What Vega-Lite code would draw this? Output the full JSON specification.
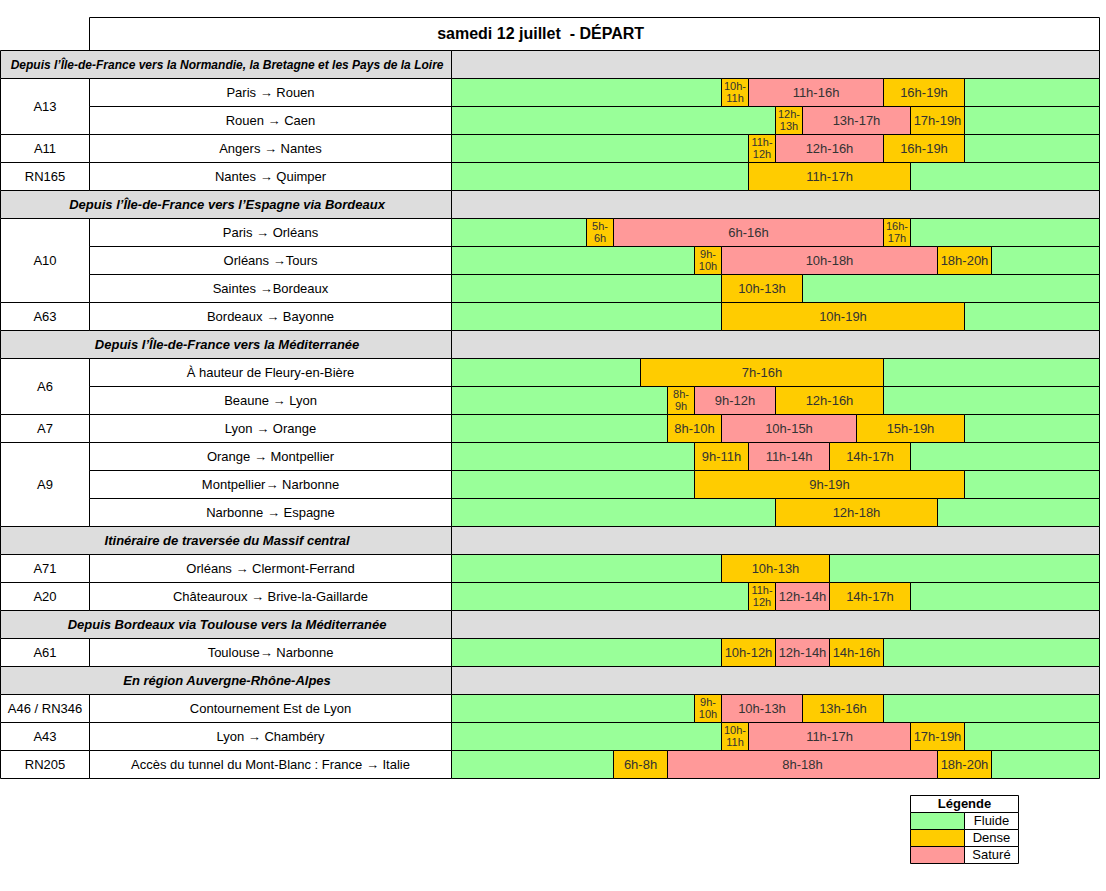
{
  "$schema": "https://vega.github.io/schema/vega-lite/v6.json",
  "width": 1106,
  "height": 891,
  "autosize": "none",
  "padding": 0,
  "background": "white",
  "config": {
    "view": {"stroke": null},
    "axis": {"disable": true},
    "font": "Liberation Sans",
    "text": {"font": "Liberation Sans", "fontSize": 13, "baseline": "middle", "align": "center", "color": "black"}
  },
  "datasets": {
    "titre": [{"titre": "samedi 12 juillet\u00a0 - DÉPART", "r0": -1, "r1": 0}],
    "sections": [
      {"section": "Depuis l’Île-de-France vers la Normandie, la Bretagne et les Pays de la Loire", "r0": 0, "r1": 1},
      {"section": "Depuis l’Île-de-France vers l’Espagne via Bordeaux", "r0": 5, "r1": 6},
      {"section": "Depuis l’Île-de-France vers la Méditerranée", "r0": 10, "r1": 11},
      {"section": "Itinéraire de traversée du Massif central", "r0": 17, "r1": 18},
      {"section": "Depuis Bordeaux via Toulouse vers la Méditerranée", "r0": 20, "r1": 21},
      {"section": "En région Auvergne-Rhône-Alpes", "r0": 22, "r1": 23}
    ],
    "roads": [
      {"road": "A13", "r0": 1, "r1": 3},
      {"road": "A11", "r0": 3, "r1": 4},
      {"road": "RN165", "r0": 4, "r1": 5},
      {"road": "A10", "r0": 6, "r1": 9},
      {"road": "A63", "r0": 9, "r1": 10},
      {"road": "A6", "r0": 11, "r1": 13},
      {"road": "A7", "r0": 13, "r1": 14},
      {"road": "A9", "r0": 14, "r1": 17},
      {"road": "A71", "r0": 18, "r1": 19},
      {"road": "A20", "r0": 19, "r1": 20},
      {"road": "A61", "r0": 21, "r1": 22},
      {"road": "A46 / RN346", "r0": 23, "r1": 24},
      {"road": "A43", "r0": 24, "r1": 25},
      {"road": "RN205", "r0": 25, "r1": 26}
    ],
    "routes": [
      {"route": "Paris → Rouen", "r0": 1, "r1": 2},
      {"route": "Rouen → Caen", "r0": 2, "r1": 3},
      {"route": "Angers → Nantes", "r0": 3, "r1": 4},
      {"route": "Nantes → Quimper", "r0": 4, "r1": 5},
      {"route": "Paris → Orléans", "r0": 6, "r1": 7},
      {"route": "Orléans →Tours", "r0": 7, "r1": 8},
      {"route": "Saintes →Bordeaux", "r0": 8, "r1": 9},
      {"route": "Bordeaux → Bayonne", "r0": 9, "r1": 10},
      {"route": "À hauteur de Fleury-en-Bière", "r0": 11, "r1": 12},
      {"route": "Beaune → Lyon", "r0": 12, "r1": 13},
      {"route": "Lyon → Orange", "r0": 13, "r1": 14},
      {"route": "Orange → Montpellier", "r0": 14, "r1": 15},
      {"route": "Montpellier→ Narbonne", "r0": 15, "r1": 16},
      {"route": "Narbonne → Espagne", "r0": 16, "r1": 17},
      {"route": "Orléans → Clermont-Ferrand", "r0": 18, "r1": 19},
      {"route": "Châteauroux → Brive-la-Gaillarde", "r0": 19, "r1": 20},
      {"route": "Toulouse→ Narbonne", "r0": 21, "r1": 22},
      {"route": "Contournement Est de Lyon", "r0": 23, "r1": 24},
      {"route": "Lyon → Chambéry", "r0": 24, "r1": 25},
      {"route": "Accès du tunnel du Mont-Blanc : France → Italie", "r0": 25, "r1": 26}
    ],
    "segments": [
      {"r0": 1, "r1": 2, "start": 0, "end": 10, "niveau": "Fluide", "label": ""},
      {"r0": 1, "r1": 2, "start": 10, "end": 11, "niveau": "Dense", "label": "10h-\n11h"},
      {"r0": 1, "r1": 2, "start": 11, "end": 16, "niveau": "Saturé", "label": "11h-16h"},
      {"r0": 1, "r1": 2, "start": 16, "end": 19, "niveau": "Dense", "label": "16h-19h"},
      {"r0": 1, "r1": 2, "start": 19, "end": 24, "niveau": "Fluide", "label": ""},
      {"r0": 2, "r1": 3, "start": 0, "end": 12, "niveau": "Fluide", "label": ""},
      {"r0": 2, "r1": 3, "start": 12, "end": 13, "niveau": "Dense", "label": "12h-\n13h"},
      {"r0": 2, "r1": 3, "start": 13, "end": 17, "niveau": "Saturé", "label": "13h-17h"},
      {"r0": 2, "r1": 3, "start": 17, "end": 19, "niveau": "Dense", "label": "17h-19h"},
      {"r0": 2, "r1": 3, "start": 19, "end": 24, "niveau": "Fluide", "label": ""},
      {"r0": 3, "r1": 4, "start": 0, "end": 11, "niveau": "Fluide", "label": ""},
      {"r0": 3, "r1": 4, "start": 11, "end": 12, "niveau": "Dense", "label": "11h-\n12h"},
      {"r0": 3, "r1": 4, "start": 12, "end": 16, "niveau": "Saturé", "label": "12h-16h"},
      {"r0": 3, "r1": 4, "start": 16, "end": 19, "niveau": "Dense", "label": "16h-19h"},
      {"r0": 3, "r1": 4, "start": 19, "end": 24, "niveau": "Fluide", "label": ""},
      {"r0": 4, "r1": 5, "start": 0, "end": 11, "niveau": "Fluide", "label": ""},
      {"r0": 4, "r1": 5, "start": 11, "end": 17, "niveau": "Dense", "label": "11h-17h"},
      {"r0": 4, "r1": 5, "start": 17, "end": 24, "niveau": "Fluide", "label": ""},
      {"r0": 6, "r1": 7, "start": 0, "end": 5, "niveau": "Fluide", "label": ""},
      {"r0": 6, "r1": 7, "start": 5, "end": 6, "niveau": "Dense", "label": "5h-\n6h"},
      {"r0": 6, "r1": 7, "start": 6, "end": 16, "niveau": "Saturé", "label": "6h-16h"},
      {"r0": 6, "r1": 7, "start": 16, "end": 17, "niveau": "Dense", "label": "16h-\n17h"},
      {"r0": 6, "r1": 7, "start": 17, "end": 24, "niveau": "Fluide", "label": ""},
      {"r0": 7, "r1": 8, "start": 0, "end": 9, "niveau": "Fluide", "label": ""},
      {"r0": 7, "r1": 8, "start": 9, "end": 10, "niveau": "Dense", "label": "9h-\n10h"},
      {"r0": 7, "r1": 8, "start": 10, "end": 18, "niveau": "Saturé", "label": "10h-18h"},
      {"r0": 7, "r1": 8, "start": 18, "end": 20, "niveau": "Dense", "label": "18h-20h"},
      {"r0": 7, "r1": 8, "start": 20, "end": 24, "niveau": "Fluide", "label": ""},
      {"r0": 8, "r1": 9, "start": 0, "end": 10, "niveau": "Fluide", "label": ""},
      {"r0": 8, "r1": 9, "start": 10, "end": 13, "niveau": "Dense", "label": "10h-13h"},
      {"r0": 8, "r1": 9, "start": 13, "end": 24, "niveau": "Fluide", "label": ""},
      {"r0": 9, "r1": 10, "start": 0, "end": 10, "niveau": "Fluide", "label": ""},
      {"r0": 9, "r1": 10, "start": 10, "end": 19, "niveau": "Dense", "label": "10h-19h"},
      {"r0": 9, "r1": 10, "start": 19, "end": 24, "niveau": "Fluide", "label": ""},
      {"r0": 11, "r1": 12, "start": 0, "end": 7, "niveau": "Fluide", "label": ""},
      {"r0": 11, "r1": 12, "start": 7, "end": 16, "niveau": "Dense", "label": "7h-16h"},
      {"r0": 11, "r1": 12, "start": 16, "end": 24, "niveau": "Fluide", "label": ""},
      {"r0": 12, "r1": 13, "start": 0, "end": 8, "niveau": "Fluide", "label": ""},
      {"r0": 12, "r1": 13, "start": 8, "end": 9, "niveau": "Dense", "label": "8h-\n9h"},
      {"r0": 12, "r1": 13, "start": 9, "end": 12, "niveau": "Saturé", "label": "9h-12h"},
      {"r0": 12, "r1": 13, "start": 12, "end": 16, "niveau": "Dense", "label": "12h-16h"},
      {"r0": 12, "r1": 13, "start": 16, "end": 24, "niveau": "Fluide", "label": ""},
      {"r0": 13, "r1": 14, "start": 0, "end": 8, "niveau": "Fluide", "label": ""},
      {"r0": 13, "r1": 14, "start": 8, "end": 10, "niveau": "Dense", "label": "8h-10h"},
      {"r0": 13, "r1": 14, "start": 10, "end": 15, "niveau": "Saturé", "label": "10h-15h"},
      {"r0": 13, "r1": 14, "start": 15, "end": 19, "niveau": "Dense", "label": "15h-19h"},
      {"r0": 13, "r1": 14, "start": 19, "end": 24, "niveau": "Fluide", "label": ""},
      {"r0": 14, "r1": 15, "start": 0, "end": 9, "niveau": "Fluide", "label": ""},
      {"r0": 14, "r1": 15, "start": 9, "end": 11, "niveau": "Dense", "label": "9h-11h"},
      {"r0": 14, "r1": 15, "start": 11, "end": 14, "niveau": "Saturé", "label": "11h-14h"},
      {"r0": 14, "r1": 15, "start": 14, "end": 17, "niveau": "Dense", "label": "14h-17h"},
      {"r0": 14, "r1": 15, "start": 17, "end": 24, "niveau": "Fluide", "label": ""},
      {"r0": 15, "r1": 16, "start": 0, "end": 9, "niveau": "Fluide", "label": ""},
      {"r0": 15, "r1": 16, "start": 9, "end": 19, "niveau": "Dense", "label": "9h-19h"},
      {"r0": 15, "r1": 16, "start": 19, "end": 24, "niveau": "Fluide", "label": ""},
      {"r0": 16, "r1": 17, "start": 0, "end": 12, "niveau": "Fluide", "label": ""},
      {"r0": 16, "r1": 17, "start": 12, "end": 18, "niveau": "Dense", "label": "12h-18h"},
      {"r0": 16, "r1": 17, "start": 18, "end": 24, "niveau": "Fluide", "label": ""},
      {"r0": 18, "r1": 19, "start": 0, "end": 10, "niveau": "Fluide", "label": ""},
      {"r0": 18, "r1": 19, "start": 10, "end": 14, "niveau": "Dense", "label": "10h-13h"},
      {"r0": 18, "r1": 19, "start": 14, "end": 24, "niveau": "Fluide", "label": ""},
      {"r0": 19, "r1": 20, "start": 0, "end": 11, "niveau": "Fluide", "label": ""},
      {"r0": 19, "r1": 20, "start": 11, "end": 12, "niveau": "Dense", "label": "11h-\n12h"},
      {"r0": 19, "r1": 20, "start": 12, "end": 14, "niveau": "Saturé", "label": "12h-14h"},
      {"r0": 19, "r1": 20, "start": 14, "end": 17, "niveau": "Dense", "label": "14h-17h"},
      {"r0": 19, "r1": 20, "start": 17, "end": 24, "niveau": "Fluide", "label": ""},
      {"r0": 21, "r1": 22, "start": 0, "end": 10, "niveau": "Fluide", "label": ""},
      {"r0": 21, "r1": 22, "start": 10, "end": 12, "niveau": "Dense", "label": "10h-12h"},
      {"r0": 21, "r1": 22, "start": 12, "end": 14, "niveau": "Saturé", "label": "12h-14h"},
      {"r0": 21, "r1": 22, "start": 14, "end": 16, "niveau": "Dense", "label": "14h-16h"},
      {"r0": 21, "r1": 22, "start": 16, "end": 24, "niveau": "Fluide", "label": ""},
      {"r0": 23, "r1": 24, "start": 0, "end": 9, "niveau": "Fluide", "label": ""},
      {"r0": 23, "r1": 24, "start": 9, "end": 10, "niveau": "Dense", "label": "9h-\n10h"},
      {"r0": 23, "r1": 24, "start": 10, "end": 13, "niveau": "Saturé", "label": "10h-13h"},
      {"r0": 23, "r1": 24, "start": 13, "end": 16, "niveau": "Dense", "label": "13h-16h"},
      {"r0": 23, "r1": 24, "start": 16, "end": 24, "niveau": "Fluide", "label": ""},
      {"r0": 24, "r1": 25, "start": 0, "end": 10, "niveau": "Fluide", "label": ""},
      {"r0": 24, "r1": 25, "start": 10, "end": 11, "niveau": "Dense", "label": "10h-\n11h"},
      {"r0": 24, "r1": 25, "start": 11, "end": 17, "niveau": "Saturé", "label": "11h-17h"},
      {"r0": 24, "r1": 25, "start": 17, "end": 19, "niveau": "Dense", "label": "17h-19h"},
      {"r0": 24, "r1": 25, "start": 19, "end": 24, "niveau": "Fluide", "label": ""},
      {"r0": 25, "r1": 26, "start": 0, "end": 6, "niveau": "Fluide", "label": ""},
      {"r0": 25, "r1": 26, "start": 6, "end": 8, "niveau": "Dense", "label": "6h-8h"},
      {"r0": 25, "r1": 26, "start": 8, "end": 18, "niveau": "Saturé", "label": "8h-18h"},
      {"r0": 25, "r1": 26, "start": 18, "end": 20, "niveau": "Dense", "label": "18h-20h"},
      {"r0": 25, "r1": 26, "start": 20, "end": 24, "niveau": "Fluide", "label": ""}
    ],
    "legende_titre": [{"texte": "Légende", "r0": 27, "r1": 28}],
    "legende": [
      {"niveau": "Fluide", "r0": 28, "r1": 29},
      {"niveau": "Dense", "r0": 29, "r1": 30},
      {"niveau": "Saturé", "r0": 30, "r1": 31}
    ]
  },
  "layer": [
    {
      "data": {"name": "titre"},
      "mark": {"type": "rect", "fill": "white", "stroke": "black", "strokeWidth": 1},
      "encoding": {
        "x": {"datum": -1, "type": "quantitative", "axis": null,
              "scale": {"domain": [-2, -1, 0, 24], "range": [0.5, 89.5, 451.5, 1099.5], "zero": false, "nice": false}},
        "x2": {"datum": 24},
        "y": {"field": "r0", "type": "quantitative", "axis": null,
              "scale": {"domain": [-1, 0, 26, 31], "range": [17.5, 50.5, 778.5, 863.5], "zero": false, "nice": false}},
        "y2": {"field": "r1"}
      }
    },
    {
      "data": {"name": "sections"},
      "mark": {"type": "rect", "fill": "#DDDDDD", "stroke": "black", "strokeWidth": 1},
      "encoding": {
        "x": {"datum": -2, "type": "quantitative"},
        "x2": {"datum": 0},
        "y": {"field": "r0", "type": "quantitative"},
        "y2": {"field": "r1"}
      }
    },
    {
      "data": {"name": "sections"},
      "mark": {"type": "rect", "fill": "#DDDDDD", "stroke": "black", "strokeWidth": 1},
      "encoding": {
        "x": {"datum": 0, "type": "quantitative"},
        "x2": {"datum": 24},
        "y": {"field": "r0", "type": "quantitative"},
        "y2": {"field": "r1"}
      }
    },
    {
      "data": {"name": "roads"},
      "mark": {"type": "rect", "fill": "white", "stroke": "black", "strokeWidth": 1},
      "encoding": {
        "x": {"datum": -2, "type": "quantitative"},
        "x2": {"datum": -1},
        "y": {"field": "r0", "type": "quantitative"},
        "y2": {"field": "r1"}
      }
    },
    {
      "data": {"name": "routes"},
      "mark": {"type": "rect", "fill": "white", "stroke": "black", "strokeWidth": 1},
      "encoding": {
        "x": {"datum": -1, "type": "quantitative"},
        "x2": {"datum": 0},
        "y": {"field": "r0", "type": "quantitative"},
        "y2": {"field": "r1"}
      }
    },
    {
      "data": {"name": "segments"},
      "transform": [{"filter": "datum.niveau === 'Fluide'"}],
      "mark": {"type": "rect"},
      "encoding": {
        "x": {"field": "start", "type": "quantitative"},
        "x2": {"field": "end"},
        "y": {"field": "r0", "type": "quantitative"},
        "y2": {"field": "r1"},
        "color": {"field": "niveau", "type": "nominal", "legend": null,
                  "scale": {"domain": ["Fluide", "Dense", "Saturé"], "range": ["#99FF99", "#FFCC00", "#FF9999"]}}
      }
    },
    {
      "data": {"name": "routes"},
      "mark": {"type": "rect", "fill": "transparent", "stroke": "black", "strokeWidth": 1},
      "encoding": {
        "x": {"datum": 0, "type": "quantitative"},
        "x2": {"datum": 24},
        "y": {"field": "r0", "type": "quantitative"},
        "y2": {"field": "r1"}
      }
    },
    {
      "data": {"name": "segments"},
      "transform": [{"filter": "datum.niveau !== 'Fluide'"}],
      "mark": {"type": "rect", "stroke": "black", "strokeWidth": 1},
      "encoding": {
        "x": {"field": "start", "type": "quantitative"},
        "x2": {"field": "end"},
        "y": {"field": "r0", "type": "quantitative"},
        "y2": {"field": "r1"},
        "color": {"field": "niveau", "type": "nominal", "legend": null}
      }
    },
    {
      "data": {"name": "titre"},
      "mark": {"type": "text", "fontSize": 16, "fontWeight": "bold"},
      "transform": [{"fold": ["r0", "r1"], "as": ["bord", "r"]}],
      "encoding": {
        "x": {"datum": 3.3, "type": "quantitative"},
        "y": {"aggregate": "mean", "field": "r", "type": "quantitative"},
        "text": {"field": "titre", "type": "nominal"}
      }
    },
    {
      "data": {"name": "sections"},
      "mark": {"type": "text", "fontWeight": "bold", "fontStyle": "italic"},
      "transform": [
        {"filter": "length(datum.section) <= 60"},
        {"fold": ["r0", "r1"], "as": ["bord", "r"]}
      ],
      "encoding": {
        "x": {"datum": -0.62, "type": "quantitative"},
        "y": {"aggregate": "mean", "field": "r", "type": "quantitative"},
        "text": {"field": "section", "type": "nominal"}
      }
    },
    {
      "data": {"name": "sections"},
      "mark": {"type": "text", "fontWeight": "bold", "fontStyle": "italic", "fontSize": 12},
      "transform": [
        {"filter": "length(datum.section) > 60"},
        {"fold": ["r0", "r1"], "as": ["bord", "r"]}
      ],
      "encoding": {
        "x": {"datum": -0.62, "type": "quantitative"},
        "y": {"aggregate": "mean", "field": "r", "type": "quantitative"},
        "text": {"field": "section", "type": "nominal"}
      }
    },
    {
      "data": {"name": "roads"},
      "mark": {"type": "text"},
      "transform": [{"fold": ["r0", "r1"], "as": ["bord", "r"]}],
      "encoding": {
        "x": {"datum": -1.5, "type": "quantitative"},
        "y": {"aggregate": "mean", "field": "r", "type": "quantitative"},
        "text": {"field": "road", "type": "nominal"}
      }
    },
    {
      "data": {"name": "routes"},
      "mark": {"type": "text"},
      "transform": [{"fold": ["r0", "r1"], "as": ["bord", "r"]}],
      "encoding": {
        "x": {"datum": -0.5, "type": "quantitative"},
        "y": {"aggregate": "mean", "field": "r", "type": "quantitative"},
        "text": {"field": "route", "type": "nominal"}
      }
    },
    {
      "data": {"name": "segments"},
      "mark": {"type": "text", "color": "#333333"},
      "transform": [
        {"filter": "datum.niveau !== 'Fluide' && datum.end - datum.start > 1"},
        {"fold": ["start", "end"], "as": ["bordx", "t"]},
        {"fold": ["r0", "r1"], "as": ["bord", "r"]}
      ],
      "encoding": {
        "x": {"aggregate": "mean", "field": "t", "type": "quantitative"},
        "y": {"aggregate": "mean", "field": "r", "type": "quantitative"},
        "text": {"field": "label", "type": "nominal"},
        "detail": {"field": "r0", "type": "ordinal"}
      }
    },
    {
      "data": {"name": "segments"},
      "mark": {"type": "text", "color": "#333333", "fontSize": 11, "lineBreak": "\n", "lineHeight": 12, "dy": -6},
      "transform": [
        {"filter": "datum.niveau !== 'Fluide' && datum.end - datum.start <= 1"},
        {"fold": ["start", "end"], "as": ["bordx", "t"]},
        {"fold": ["r0", "r1"], "as": ["bord", "r"]}
      ],
      "encoding": {
        "x": {"aggregate": "mean", "field": "t", "type": "quantitative"},
        "y": {"aggregate": "mean", "field": "r", "type": "quantitative"},
        "text": {"field": "label", "type": "nominal"},
        "detail": {"field": "r0", "type": "ordinal"}
      }
    },
    {
      "data": {"name": "legende_titre"},
      "mark": {"type": "rect", "fill": "white", "stroke": "black", "strokeWidth": 1},
      "encoding": {
        "x": {"datum": 17, "type": "quantitative"},
        "x2": {"datum": 21},
        "y": {"field": "r0", "type": "quantitative"},
        "y2": {"field": "r1"}
      }
    },
    {
      "data": {"name": "legende"},
      "mark": {"type": "rect", "stroke": "black", "strokeWidth": 1},
      "encoding": {
        "x": {"datum": 17, "type": "quantitative"},
        "x2": {"datum": 19},
        "y": {"field": "r0", "type": "quantitative"},
        "y2": {"field": "r1"},
        "color": {"field": "niveau", "type": "nominal", "legend": null}
      }
    },
    {
      "data": {"name": "legende"},
      "mark": {"type": "rect", "fill": "white", "stroke": "black", "strokeWidth": 1},
      "encoding": {
        "x": {"datum": 19, "type": "quantitative"},
        "x2": {"datum": 21},
        "y": {"field": "r0", "type": "quantitative"},
        "y2": {"field": "r1"}
      }
    },
    {
      "data": {"name": "legende_titre"},
      "mark": {"type": "text", "fontWeight": "bold"},
      "transform": [{"fold": ["r0", "r1"], "as": ["bord", "r"]}],
      "encoding": {
        "x": {"datum": 19, "type": "quantitative"},
        "y": {"aggregate": "mean", "field": "r", "type": "quantitative"},
        "text": {"field": "texte", "type": "nominal"}
      }
    },
    {
      "data": {"name": "legende"},
      "mark": {"type": "text"},
      "transform": [{"fold": ["r0", "r1"], "as": ["bord", "r"]}],
      "encoding": {
        "x": {"datum": 20, "type": "quantitative"},
        "y": {"aggregate": "mean", "field": "r", "type": "quantitative"},
        "text": {"field": "niveau", "type": "nominal"}
      }
    }
  ]
}
